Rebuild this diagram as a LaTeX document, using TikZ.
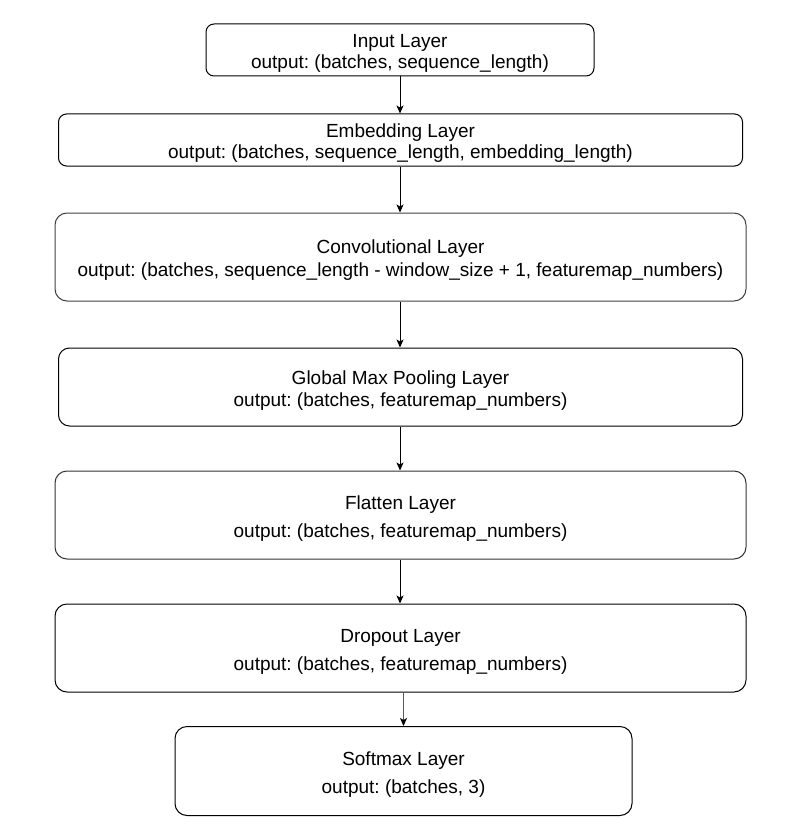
\documentclass[tikz,border=0pt]{standalone}
\usepackage{fontspec}
\setmainfont{Liberation Sans}
\frenchspacing
\usetikzlibrary{arrows.meta}
\newcommand{\topfix}{\rule{0pt}{20pt}}
\tikzset{
  layer/.style={draw=black, line width=1pt, rounded corners=#1, inner sep=0pt, align=center,
    font=\fontsize{19}{21}\selectfont},
  layer/.default=8pt,
  flow/.style={draw=black, line width=1pt, -{Stealth[length=8pt,width=7pt,inset=2pt]}},
}
\begin{document}
\begin{tikzpicture}[x=1pt,y=-1pt]
\useasboundingbox (0,0) rectangle (797,832);
\node[layer, minimum width=388pt, minimum height=52pt] (inp) at (400,50) {\topfix Input Layer\\output: (batches, sequence\_length)};
\node[layer, minimum width=684pt, minimum height=52pt] (emb) at (400.5,140) {\topfix Embedding Layer\\output: (batches, sequence\_length, embedding\_length)};
\node[layer=12pt, draw=black!75, minimum width=691pt, minimum height=88pt] (conv) at (400.5,257) {\topfix Convolutional Layer\\[2pt]output: (batches, sequence\_length - window\_size + 1, featuremap\_numbers)};
\node[layer=11pt, minimum width=684pt, minimum height=78pt] (gmp) at (400.5,387) {\topfix Global Max Pooling Layer\\[1pt]output: (batches, featuremap\_numbers)};
\node[layer=12pt, draw=black!80, minimum width=691pt, minimum height=88pt] (flat) at (400.5,515) {\topfix Flatten Layer\\[7pt]output: (batches, featuremap\_numbers)};
\node[layer=12pt, minimum width=691pt, minimum height=88pt] (drop) at (400.5,648) {\topfix Dropout Layer\\[7pt]output: (batches, featuremap\_numbers)};
\node[layer=12pt, minimum width=457pt, minimum height=89pt] (soft) at (403.5,771) {\topfix Softmax Layer\\[7pt]output: (batches, 3)};
\draw[flow] (inp.south) -- (inp.south |- emb.north);
\draw[flow] (emb.south -| inp.south) -- (inp.south |- conv.north);
\draw[flow] (conv.south -| inp.south) -- (inp.south |- gmp.north);
\draw[flow] (gmp.south -| inp.south) -- (inp.south |- flat.north);
\draw[flow] (flat.south -| inp.south) -- (inp.south |- drop.north);
\draw[flow, draw=black!65, -{Stealth[length=8pt,width=7pt,inset=2pt,fill=black,color=black]}] (drop.south -| soft.north) -- (soft.north);
\end{tikzpicture}
\end{document}
